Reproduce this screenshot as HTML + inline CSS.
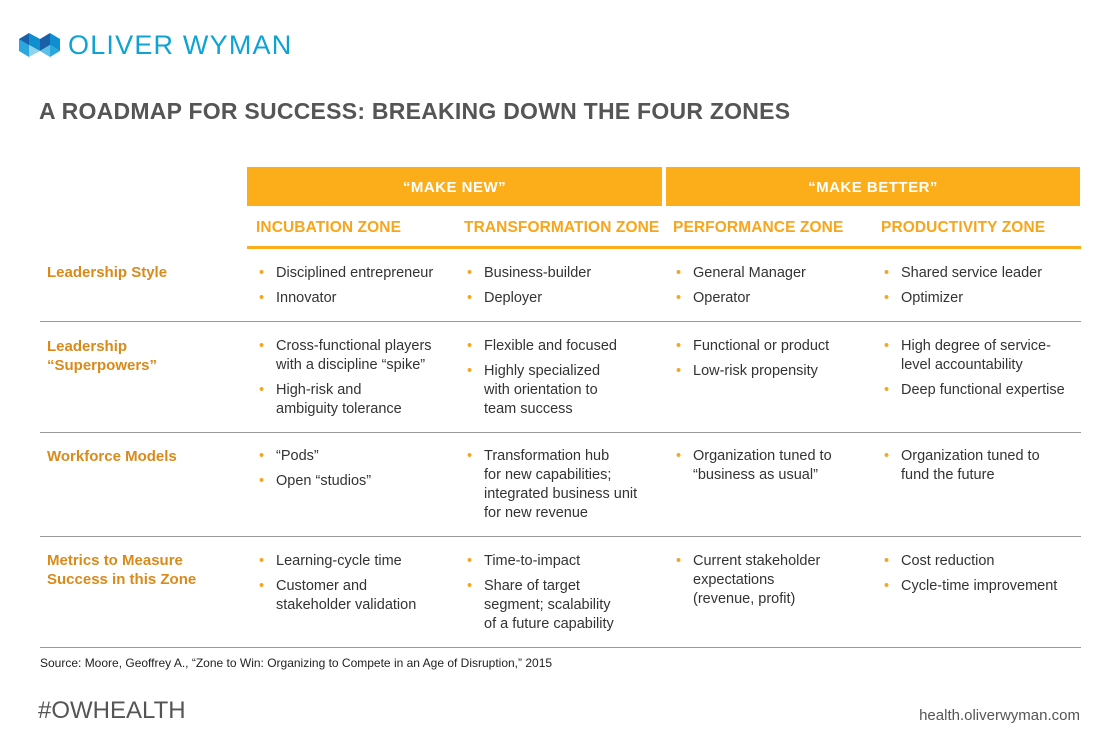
<!DOCTYPE html>
<html><head><meta charset="utf-8"><style>
body{margin:0;background:#fff;}
#root{position:relative;width:1100px;height:729px;overflow:hidden;font-family:"Liberation Sans",Arial,sans-serif;color:#333;}
.a{position:absolute;white-space:nowrap;}
.band{position:absolute;top:167px;height:39px;background:#FBAE1A;color:#fff;font-size:15px;font-weight:bold;text-align:center;line-height:42px;letter-spacing:.5px;}
.zone{position:absolute;top:219px;font-size:15.5px;color:#F7A51C;font-weight:bold;letter-spacing:.1px;}
.lab{position:absolute;left:47px;font-size:15px;font-weight:bold;color:#D98A1B;line-height:19px;}
.sep{position:absolute;left:40px;width:1041px;height:1px;background:#999;}
.cell{position:absolute;font-size:14.5px;line-height:19px;color:#333;}
.cell div{position:relative;padding-left:17px;margin-bottom:6px;}
.cell div:before{content:"•";position:absolute;left:0;color:#F7A51C;}
</style></head><body>
<div id="root">
<svg class="a" style="left:19px;top:33px" width="42" height="24">
<polygon points="0,6 10,0 10,12 0,18" fill="#1B5FA8"/><polygon points="10,0 21,6 21,18 10,12" fill="#0E8FD0"/>
<polygon points="0,6 10,12 10,24 0,18" fill="#2AA7DD"/><polygon points="10,12 21,18 10,24" fill="#8DD3EE"/>
<polygon points="21,6 31,0 31,12 21,18" fill="#1B5FA8"/><polygon points="31,0 41,6 41,18 31,12" fill="#0E8FD0"/>
<polygon points="21,18 31,12 31,24" fill="#5BC0E8"/><polygon points="31,12 41,18 31,24" fill="#2AA7DD"/>
</svg>
<div class="a" style="left:68px;top:30px;font-size:27px;color:#0FA3D4;letter-spacing:1.2px">OLIVER WYMAN</div>
<div class="a" style="left:39px;top:98px;font-size:23px;font-weight:bold;color:#555;letter-spacing:.25px">A ROADMAP FOR SUCCESS: BREAKING DOWN THE FOUR ZONES</div>

<div class="band" style="left:247px;width:415px">“MAKE NEW”</div>
<div class="band" style="left:666px;width:414px">“MAKE BETTER”</div>
<div class="zone" style="left:256px">INCUBATION ZONE</div>
<div class="zone" style="left:464px">TRANSFORMATION ZONE</div>
<div class="zone" style="left:673px">PERFORMANCE ZONE</div>
<div class="zone" style="left:881px">PRODUCTIVITY ZONE</div>
<div class="a" style="left:247px;top:246px;width:834px;height:3px;background:#FBAE1A"></div>

<div class="lab" style="top:263px">Leadership Style</div>
<div class="cell" style="left:259px;top:264px"><div>Disciplined entrepreneur</div><div>Innovator</div></div>
<div class="cell" style="left:467px;top:264px"><div>Business-builder</div><div>Deployer</div></div>
<div class="cell" style="left:676px;top:264px"><div>General Manager</div><div>Operator</div></div>
<div class="cell" style="left:884px;top:264px"><div>Shared service leader</div><div>Optimizer</div></div>
<div class="sep" style="top:321px"></div>

<div class="lab" style="top:337px">Leadership<br>“Superpowers”</div>
<div class="cell" style="left:259px;top:337px"><div>Cross-functional players<br>with a discipline “spike”</div><div>High-risk and<br>ambiguity tolerance</div></div>
<div class="cell" style="left:467px;top:337px"><div>Flexible and focused</div><div>Highly specialized<br>with orientation to<br>team success</div></div>
<div class="cell" style="left:676px;top:337px"><div>Functional or product</div><div>Low-risk propensity</div></div>
<div class="cell" style="left:884px;top:337px"><div>High degree of service-<br>level accountability</div><div>Deep functional expertise</div></div>
<div class="sep" style="top:432px"></div>

<div class="lab" style="top:447px">Workforce Models</div>
<div class="cell" style="left:259px;top:447px"><div>“Pods”</div><div>Open “studios”</div></div>
<div class="cell" style="left:467px;top:447px"><div>Transformation hub<br>for new capabilities;<br>integrated business unit<br>for new revenue</div></div>
<div class="cell" style="left:676px;top:447px"><div>Organization tuned to<br>“business as usual”</div></div>
<div class="cell" style="left:884px;top:447px"><div>Organization tuned to<br>fund the future</div></div>
<div class="sep" style="top:536px"></div>

<div class="lab" style="top:551px">Metrics to Measure<br>Success in this Zone</div>
<div class="cell" style="left:259px;top:552px"><div>Learning-cycle time</div><div>Customer and<br>stakeholder validation</div></div>
<div class="cell" style="left:467px;top:552px"><div>Time-to-impact</div><div>Share of target<br>segment; scalability<br>of a future capability</div></div>
<div class="cell" style="left:676px;top:552px"><div>Current stakeholder<br>expectations<br>(revenue, profit)</div></div>
<div class="cell" style="left:884px;top:552px"><div>Cost reduction</div><div>Cycle-time improvement</div></div>
<div class="sep" style="top:647px"></div>

<div class="a" style="left:40px;top:656px;font-size:12px;color:#222">Source: Moore, Geoffrey A., “Zone to Win: Organizing to Compete in an Age of Disruption,”  2015</div>
<div class="a" style="left:38px;top:697px;font-size:24px;color:#555">#OWHEALTH</div>
<div class="a" style="right:20px;top:707px;font-size:15px;color:#555">health.oliverwyman.com</div>
</div>
</body></html>
